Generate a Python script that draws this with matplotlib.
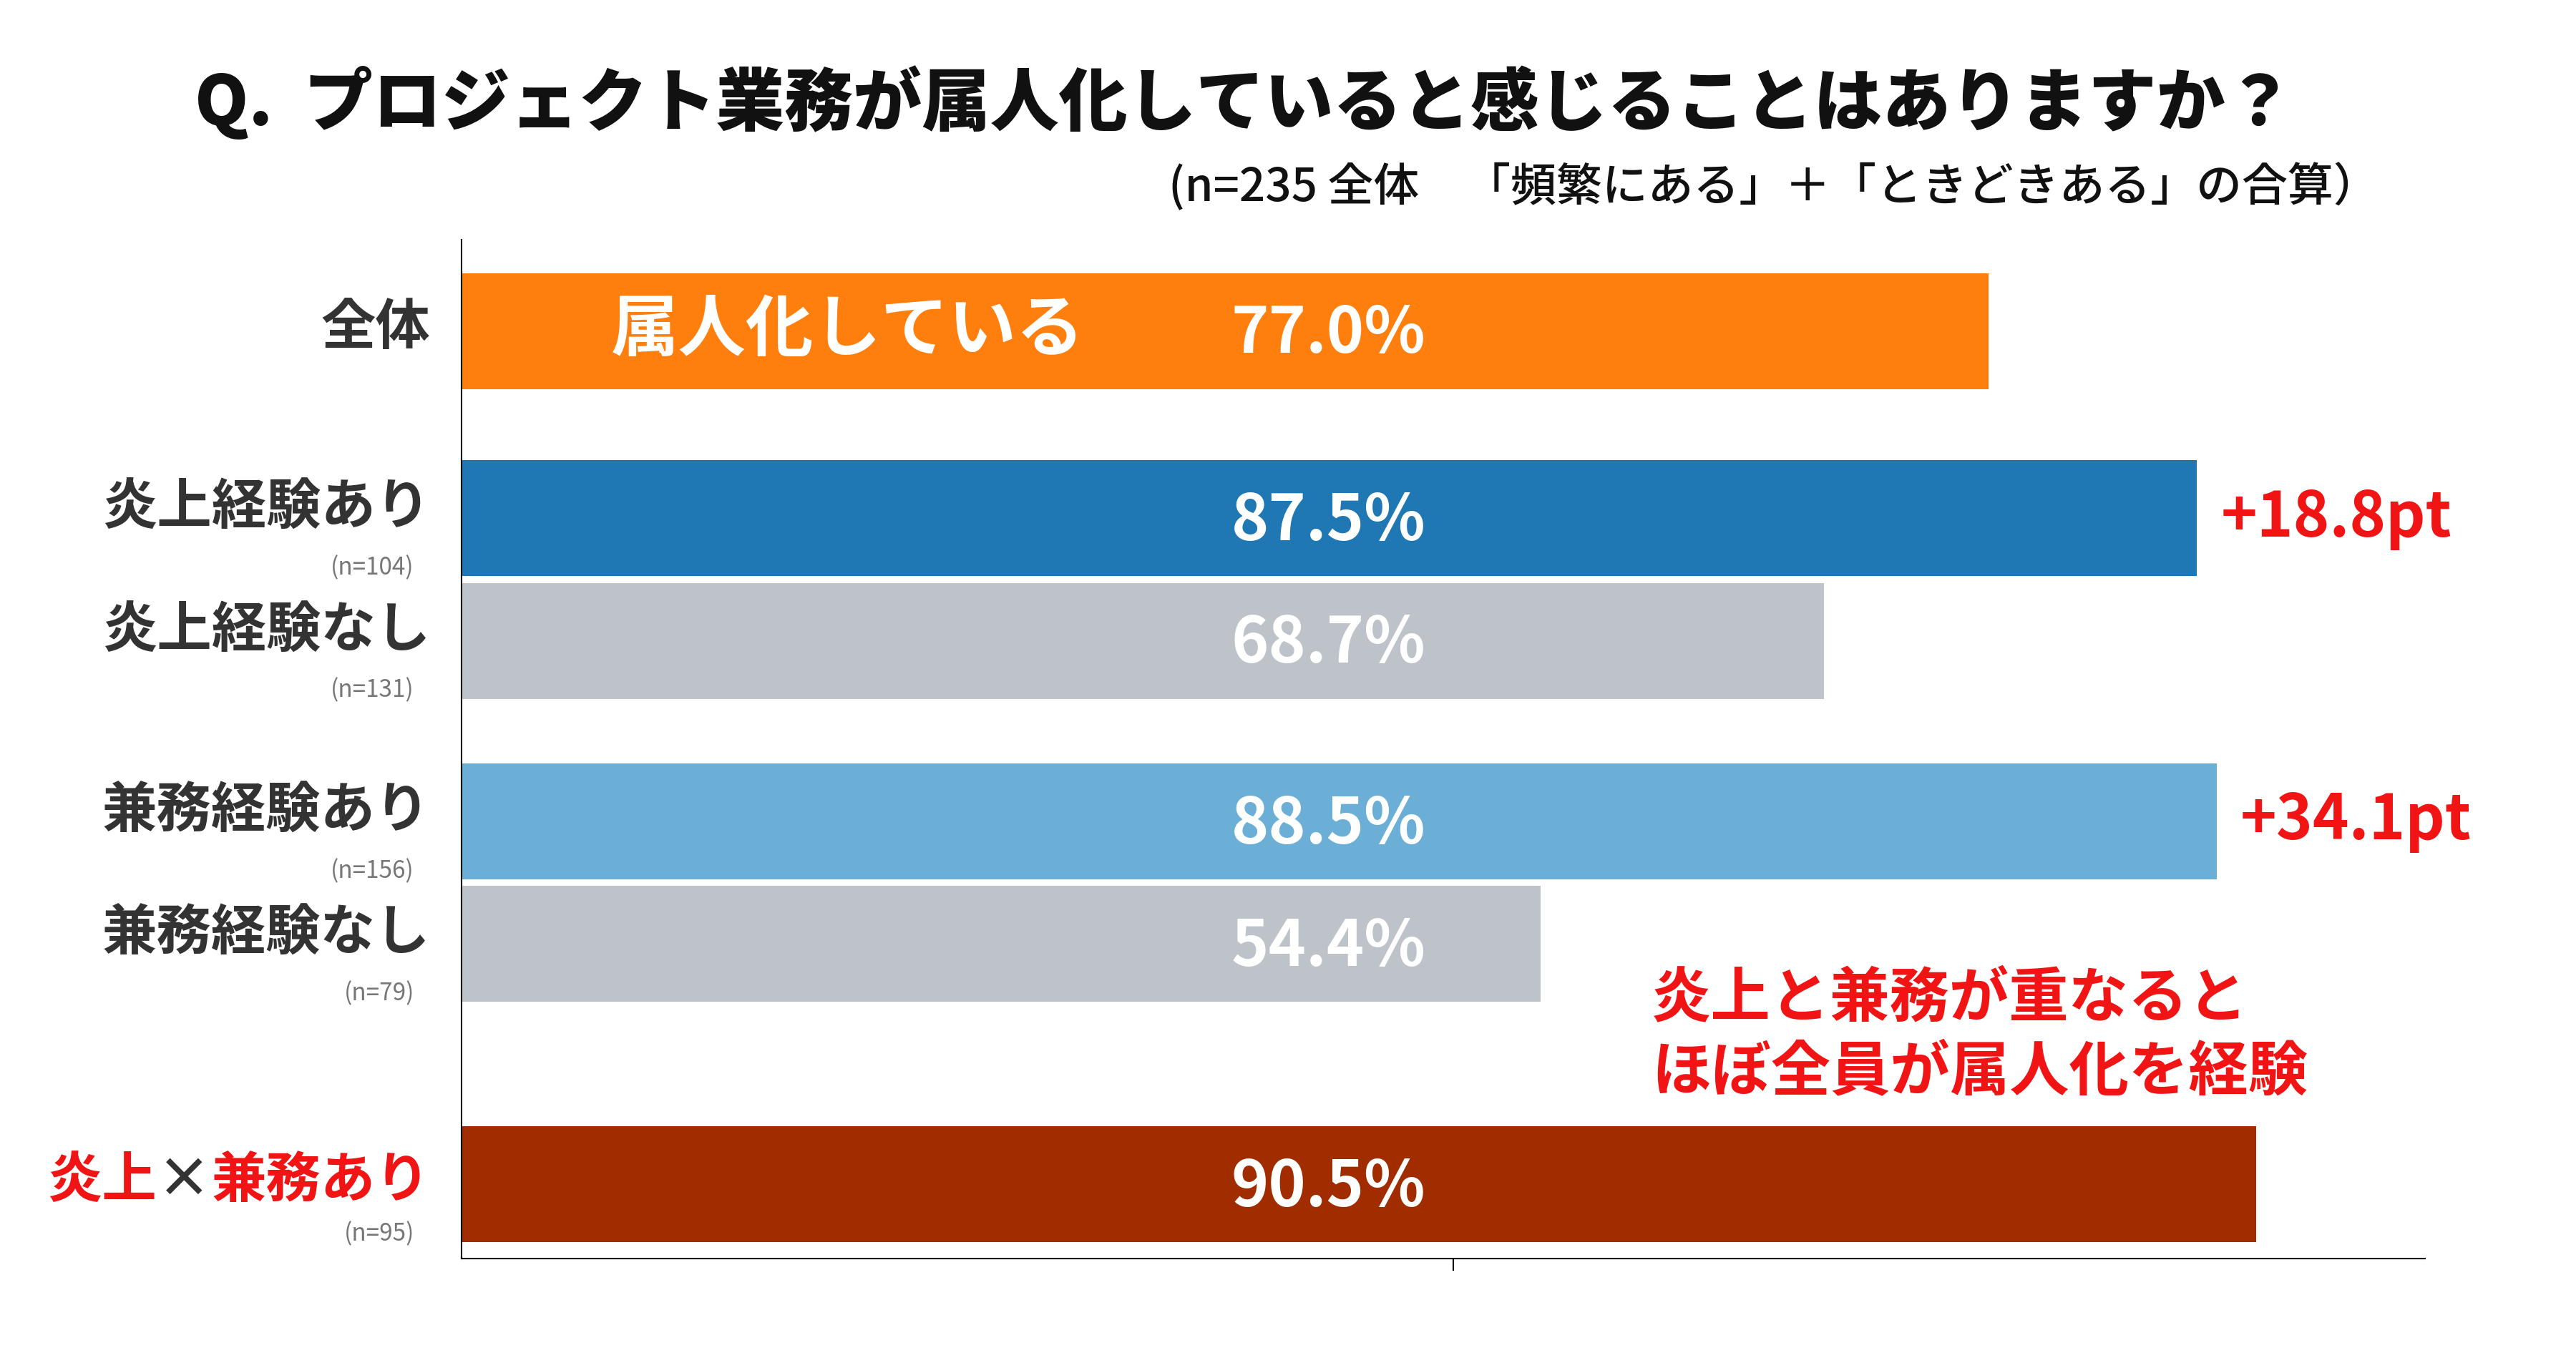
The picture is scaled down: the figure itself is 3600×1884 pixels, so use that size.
import matplotlib
matplotlib.use("Agg")
import matplotlib.pyplot as plt
from matplotlib.transforms import offset_copy

plt.rcParams['font.family'] = ['Noto Sans CJK JP', 'DejaVu Sans']
plt.rcParams['font.weight'] = 'bold'

categories = ["全体", "炎上経験あり", "炎上経験なし", "兼務経験あり", "兼務経験なし", "炎上×兼務あり"]
n_labels = ["", "(n=104)", "(n=131)", "(n=156)", "(n=79)", "(n=95)"]
values = [77.0, 87.5, 68.7, 88.5, 54.4, 90.5]
diff_labels = ["", "+18.8pt", "", "+34.1pt", "", ""]
colors = ["#FF7F0E", "#1F77B4", "#BDC3C8", "#6BAED6", "#BDC3C8", "#A02C00"]
ypos = [200, 313, 387, 496, 570, 715]

fig = plt.figure(figsize=(36, 18.84), dpi=100)
ax = fig.add_axes([0.1793, 0.0663, 0.762, 0.7557])
ax.set_xlim(0, 99)
ax.set_ylim(760, 145)
ax.barh(ypos, values, height=70, color=colors)
for s in ["top", "right"]:
    ax.spines[s].set_visible(False)
ax.spines["left"].set_linewidth(1.5)
ax.spines["bottom"].set_linewidth(1.5)
ax.set_yticks([])
ax.set_xticks([50])
ax.set_xticklabels([""])
ax.tick_params(axis='x', length=12, width=1.5)

red = "#F01414"
renderer = fig.canvas.get_renderer()
for i, (c, n, v, d, y) in enumerate(zip(categories, n_labels, values, diff_labels, ypos)):
    if i == 5:
        parts = c.split("×")
        t1 = ax.text(-1.6, y - 2, parts[1], color=red, fontsize=55, ha='right', va='center', clip_on=False)
        w1 = t1.get_window_extent(renderer).width
        tr = offset_copy(ax.transData, fig=fig, x=-w1, y=0, units='dots')
        t2 = ax.text(-1.6, y - 2, "×", color="#333333", fontsize=55, ha='right', va='center',
                     clip_on=False, transform=tr)
        w2 = t2.get_window_extent(renderer).width
        tr2 = offset_copy(ax.transData, fig=fig, x=-w1 - w2, y=0, units='dots')
        ax.text(-1.6, y - 2, parts[0], color=red, fontsize=55, ha='right', va='center',
                clip_on=False, transform=tr2)
    else:
        ax.text(-1.6, y - (2 if n == "" else 6), c, color="#333333", fontsize=55,
                ha='right', va='center', clip_on=False)
    if n:
        ax.text(-2.4, y + 30, n, color="#777777", fontsize=24, fontweight='normal',
                ha='right', va='center', clip_on=False)
    ax.text(38.8, y + 2, f"{v:.1f}%", color="white", fontsize=64, ha='left', va='center')
    if d:
        ax.text(v + 1.2, y, d, color=red, fontsize=62, ha='left', va='center', clip_on=False)

ax.text(7.5, 200, "属人化している", color="white", fontsize=68, ha='left', va='center')
ax.text(60.0, 603, "炎上と兼務が重なると", color=red, fontsize=60, ha='left', va='center')
ax.text(60.0, 648, "ほぼ全員が属人化を経験", color=red, fontsize=60, ha='left', va='center')

fig.text(0.483, 0.924, "Q.  プロジェクト業務が属人化していると感じることはありますか？",
         fontsize=69, fontweight='heavy', ha='center', va='center', color="#111111")
fig.text(0.9235, 0.861, "(n=235 全体　「頻繁にある」＋「ときどきある」の合算）",
         fontsize=46, fontweight='medium', ha='right', va='center', color="#111111")

fig.savefig("out.png", dpi=100, facecolor="white")
